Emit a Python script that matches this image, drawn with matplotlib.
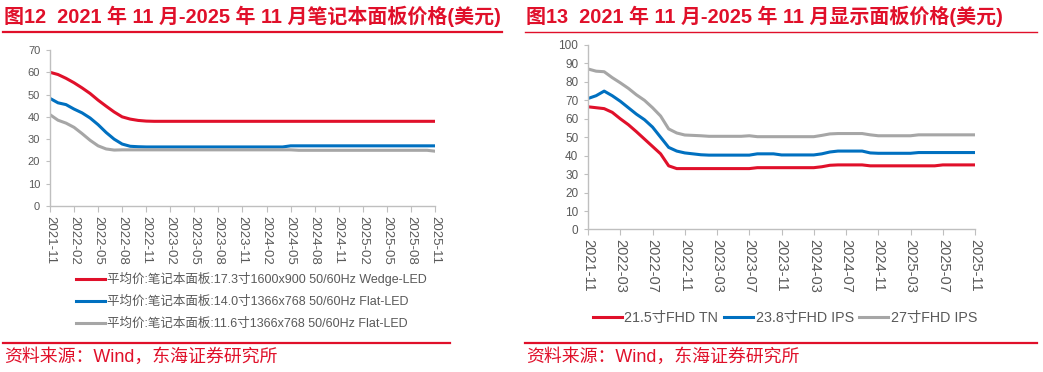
import matplotlib
matplotlib.use("Agg")
import matplotlib.pyplot as plt
from matplotlib.lines import Line2D
import pandas as pd

plt.rcParams['font.family'] = ['Liberation Sans', 'Noto Sans CJK SC']

# months 2021-11 .. 2025-11
months = pd.date_range('2021-11-01', periods=49, freq='MS').strftime('%Y-%m').tolist()

# Fig 12: notebook panels (USD)
nb_173 = [60, 59, 57.3, 55.3, 53, 50.5, 47.5, 44.8, 42.2, 40, 39, 38.4, 38.1,
          38, 38, 38, 38, 38, 38, 38, 38, 38, 38, 38, 38, 38, 38, 38, 38, 38,
          38, 38, 38, 38, 38, 38, 38, 38, 38, 38, 38, 38, 38, 38, 38, 38, 38, 38, 38]
nb_140 = [48.3, 46.3, 45.5, 43.5, 41.8, 39.5, 36.5, 33, 30, 27.8, 26.8, 26.6, 26.5,
          26.5, 26.5, 26.5, 26.5, 26.5, 26.5, 26.5, 26.5, 26.5, 26.5, 26.5, 26.5, 26.5, 26.5, 26.5, 26.5, 26.5,
          27, 27, 27, 27, 27, 27, 27, 27, 27, 27, 27, 27, 27, 27, 27, 27, 27, 27, 27]
nb_116 = [41, 38.5, 37.2, 35.3, 32.5, 29.5, 27, 25.6, 25.1, 25.2, 25.2, 25.2, 25.2,
          25.2, 25.2, 25.2, 25.2, 25.2, 25.2, 25.2, 25.2, 25.2, 25.2, 25.2, 25.2, 25.2, 25.2, 25.2, 25.2, 25.2,
          25.2, 25, 25, 25, 25, 25, 25, 25, 25, 25, 25, 25, 25, 25, 25, 25, 25, 25, 24.6]
nb_labels = ['平均价:笔记本面板:17.3寸1600x900 50/60Hz Wedge-LED',
             '平均价:笔记本面板:14.0寸1366x768 50/60Hz Flat-LED',
             '平均价:笔记本面板:11.6寸1366x768 50/60Hz Flat-LED']

# Fig 13: monitor panels (USD)
mon_215 = [66.5, 66, 65.5, 63.5, 60, 56.8, 53, 49, 45, 41, 34.5, 33,
           33, 33, 33, 33, 33, 33, 33, 33, 33,
           33.5, 33.5, 33.5, 33.5, 33.5, 33.5, 33.5, 33.5,
           34, 34.8, 35, 35, 35, 35,
           34.5, 34.5, 34.5, 34.5, 34.5, 34.5, 34.5, 34.5, 34.5,
           35, 35, 35, 35, 35]
mon_238 = [71, 72.5, 75, 72.5, 69.5, 66, 62.5, 59.5, 55.5, 50, 44.5, 42.5, 41.5, 41, 40.5,
           40.3, 40.3, 40.3, 40.3, 40.3, 40.3,
           41, 41, 41, 40.4, 40.4, 40.4, 40.4, 40.4,
           41, 42, 42.5, 42.5, 42.5, 42.5, 41.5,
           41.3, 41.3, 41.3, 41.3, 41.3,
           41.7, 41.7, 41.7, 41.7, 41.7, 41.7, 41.7, 41.7]
mon_27 = [87, 85.8, 85.5, 82.3, 79.5, 76.5, 73, 70, 66, 61.5, 54.5, 52.3, 51.2, 51, 50.8,
          50.5, 50.5, 50.5, 50.5, 50.5, 50.8,
          50.3, 50.3, 50.3, 50.3, 50.3, 50.3, 50.3, 50.3,
          51, 51.8, 52, 52, 52, 52, 51.3,
          50.8, 50.8, 50.8, 50.8, 50.8,
          51.3, 51.3, 51.3, 51.3, 51.3, 51.3, 51.3, 51.3]
mon_labels = ['21.5寸FHD TN', '23.8寸FHD IPS', '27寸FHD IPS']

RED = '#E0102A'
BLUE = '#0070C0'
GRAY = '#A6A6A6'
TXT = '#595959'
AX = '#BFBFBF'

fig = plt.figure(figsize=(10.43, 3.72), dpi=100)


def style(ax, ymax, ystep, xstep, xfs, yfs):
    for s in ['top', 'right']:
        ax.spines[s].set_visible(False)
    for s in ['left', 'bottom']:
        ax.spines[s].set_color(AX)
        ax.spines[s].set_linewidth(1)
    ax.set_ylim(0, ymax)
    ax.set_yticks(range(0, ymax + 1, ystep))
    ax.set_xlim(0, len(months) - 1)
    ticks = list(range(0, len(months), xstep))
    ax.set_xticks(ticks)
    ax.set_xticklabels([months[i] for i in ticks], rotation=-90)
    ax.tick_params(axis='x', colors=AX, labelcolor=TXT, labelsize=xfs, length=4, pad=3)
    ax.tick_params(axis='y', colors=AX, labelcolor=TXT, labelsize=yfs, length=3, pad=4)


x = range(len(months))

# left chart
ax1 = fig.add_axes([0.0479, 0.4462, 0.3692, 0.4194])
ax1.plot(x, nb_173, color=RED, lw=2.2, label=nb_labels[0])
ax1.plot(x, nb_140, color=BLUE, lw=2.2, label=nb_labels[1])
ax1.plot(x, nb_116, color=GRAY, lw=2.2, label=nb_labels[2])
style(ax1, 70, 10, 3, 9.5, 8)
ax1.legend(loc='upper left', bbox_to_anchor=(76 / 1043, 1 - 272 / 372), bbox_transform=fig.transFigure,
           frameon=False, fontsize=9, labelcolor=TXT, handlelength=2.3, handletextpad=0.2,
           labelspacing=0.78, borderpad=0, borderaxespad=0)

# right chart
ax2 = fig.add_axes([0.5638, 0.3831, 0.3710, 0.4960])
ax2.plot(x, mon_215, color=RED, lw=2.2, label=mon_labels[0])
ax2.plot(x, mon_238, color=BLUE, lw=2.2, label=mon_labels[1])
ax2.plot(x, mon_27, color=GRAY, lw=2.2, label=mon_labels[2])
style(ax2, 100, 10, 4, 10.5, 8.5)
ax2.legend(loc='center left', bbox_to_anchor=(593 / 1043, 1 - 318 / 372), bbox_transform=fig.transFigure,
           ncol=3, frameon=False, fontsize=10.3, labelcolor=TXT, handlelength=2.0, handletextpad=0.2,
           columnspacing=0.4, borderpad=0, borderaxespad=0)

# titles, rules and source notes
fig.text(4 / 1043, 1 - 16 / 372, '图12  2021 年 11 月-2025 年 11 月笔记本面板价格(美元)',
         color=RED, fontsize=14.4, fontweight='bold', va='center', ha='left')
fig.text(526 / 1043, 1 - 16 / 372, '图13  2021 年 11 月-2025 年 11 月显示面板价格(美元)',
         color=RED, fontsize=14.4, fontweight='bold', va='center', ha='left')
fig.add_artist(Line2D([3 / 1043, 502 / 1043], [1 - 31.5 / 372] * 2, color=RED, lw=1.6))
fig.add_artist(Line2D([525 / 1043, 1037 / 1043], [1 - 31.5 / 372] * 2, color=RED, lw=1.0))
fig.add_artist(Line2D([3 / 1043, 450 / 1043], [1 - 343 / 372] * 2, color=RED, lw=1.6))
fig.add_artist(Line2D([525 / 1043, 1037 / 1043], [1 - 343 / 372] * 2, color=RED, lw=1.6))
fig.text(4 / 1043, 1 - 357 / 372, '资料来源：Wind，东海证券研究所', color=RED, fontsize=12.9,
         va='center', ha='left')
fig.text(526 / 1043, 1 - 357 / 372, '资料来源：Wind，东海证券研究所', color=RED, fontsize=12.9,
         va='center', ha='left')

fig.savefig('out.png', dpi=100)
